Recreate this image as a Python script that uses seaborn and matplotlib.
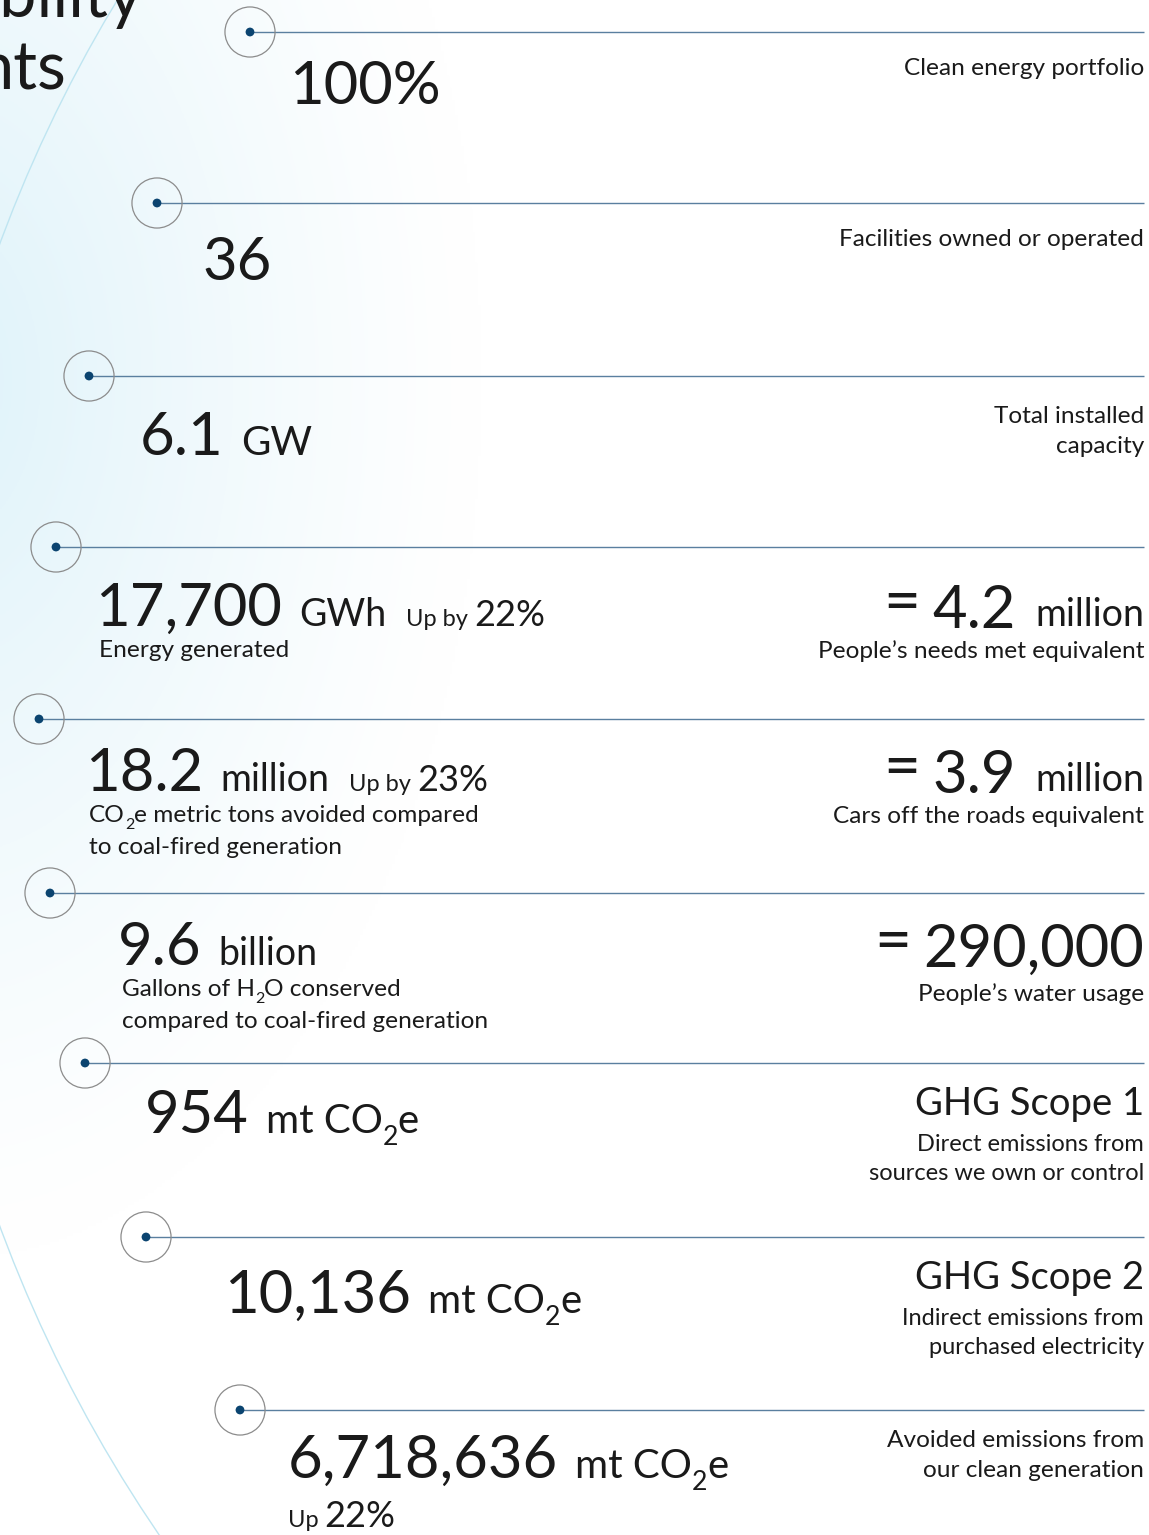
import numpy as np
import pandas as pd
import matplotlib
matplotlib.use("Agg")
import matplotlib.pyplot as plt
from matplotlib.patches import Circle
import seaborn as sns

# ---- data -------------------------------------------------------------
marker_x = [250, 157, 89, 56, 39, 50, 85, 146, 240]
marker_y = [32, 203, 376, 547, 719, 893, 1063, 1237, 1410]

values = ["100%", "36", "6.1", "17,700", "18.2", "9.6", "954", "10,136", "6,718,636"]
value_x = [289, 202, 140, 95, 85, 118, 145, 224, 288]
value_base = [104, 280, 455, 626, 791, 965, 1133, 1313, 1478]
# units / captions: "_2" marks a subscript two
units = ["", "", "GW", "GWh", "million", "billion", "mt CO_2e", "mt CO_2e", "mt CO_2e"]
change_label = ["", "", "", "Up by", "Up by", "", "", "", "Up"]
change_pct = ["", "", "", "22%", "23%", "", "", "", "22%"]

left_captions = [
    [], [], [],
    ["Energy generated"],
    ["CO_2e metric tons avoided compared", "to coal-fired generation"],
    ["Gallons of H_2O conserved", "compared to coal-fired generation"],
    [], [], [],
]

equiv_value = ["", "", "", "4.2", "3.9", "290,000", "", "", ""]
equiv_unit = ["", "", "", "million", "million", "", "", "", ""]
right_titles = ["", "", "", "", "", "", "GHG Scope 1", "GHG Scope 2", ""]
right_captions = [
    ["Clean energy portfolio"],
    ["Facilities owned or operated"],
    ["Total installed", "capacity"],
    ["People\u2019s needs met equivalent"],
    ["Cars off the roads equivalent"],
    ["People\u2019s water usage"],
    ["Direct emissions from", "sources we own or control"],
    ["Indirect emissions from", "purchased electricity"],
    ["Avoided emissions from", "our clean generation"],
]

W, H = 1149, 1535
RIGHT = 1144
INK = "#1a1a1a"

sns.set_theme(style="white")
plt.rcParams["font.family"] = ["Lato", "DejaVu Sans"]

fig = plt.figure(figsize=(W / 100, H / 100), dpi=100)
ax = fig.add_axes([0, 0, 1, 1])

# soft blue wash on the left
gx, gy = np.meshgrid(np.linspace(0, W, 400), np.linspace(0, H, 500))
d = np.sqrt(((gx + 60) / 540) ** 2 + ((gy - 380) / 880) ** 2)
f = np.clip(1 - d, 0, 1) ** 1.2
tint = np.array([0.87, 0.95, 0.978])
img = 1 - f[..., None] * (1 - tint)
ax.imshow(img, extent=(0, W, H, 0), aspect="auto", zorder=0)

# big faint arc
ax.add_patch(Circle((1330, 735), 1418, fill=False, ec="#bfe5f1", lw=1.0, zorder=1))

# connector lines and markers
pts = pd.DataFrame({"x": marker_x, "y": marker_y})
ax.hlines(pts["y"], pts["x"], RIGHT, color="#5a7f9f", lw=1.0, zorder=2)
sns.scatterplot(data=pts, x="x", y="y", ax=ax, s=1300, facecolor="none",
                edgecolor="#8c8c8c", linewidth=0.9, zorder=3, legend=False)
sns.scatterplot(data=pts, x="x", y="y", ax=ax, s=40, color="#0b4470",
                edgecolor="none", zorder=4, legend=False)
ax.set_xlim(0, W)
ax.set_ylim(H, 0)
ax.axis("off")

# title fragments (cut off by the page edge, as in the source)
ax.text(143, 17, "ability", fontsize=48, ha="right", va="baseline", color=INK, clip_on=True)
ax.text(66, 90, "nts", fontsize=48, ha="right", va="baseline", color=INK, clip_on=True)

fig.canvas.draw()
renderer = fig.canvas.get_renderer()
inv = ax.transData.inverted()


def put(x, y, s, size, ha="left"):
    t = ax.text(x, y, s, fontsize=size, ha=ha, va="baseline", color=INK, zorder=5)
    bb = t.get_window_extent(renderer=renderer)
    return inv.transform((bb.x0, bb.y0))[0], inv.transform((bb.x1, bb.y0))[0]


def put_rich(x, y, s, size):
    # left aligned text where "_2" becomes a lowered, smaller 2
    parts = s.split("_2")
    xe = x
    for k, p in enumerate(parts):
        if k > 0:
            _, xe = put(xe, y + size * 0.42, "2", size * 0.66)
            xe -= 0.5
        if p:
            if k > 0 and p.startswith(" "):
                xe += size * 0.28
            _, xe = put(xe, y, p.strip(" ") if k > 0 else p, size)
    return xe


VAL, UNIT, SMALL, PCT, CAP, TITLE, RCAP = 43, 27, 17, 26, 17.6, 27.5, 17

for i in range(len(values)):
    y = value_base[i]
    _, xe = put(value_x[i], y, values[i], VAL)
    if units[i]:
        usize = 29 if ("CO" in units[i] or units[i] == "GW") else UNIT
        xe = put_rich(xe + 17, y, units[i], usize)
    if change_pct[i] and i != 8:
        _, xe = put(xe + 20, y, change_label[i], SMALL)
        put(xe + 6, y, change_pct[i], PCT)
    for k, line in enumerate(left_captions[i]):
        put_rich(value_x[i] + 4, y + 31 + 32 * k, line, CAP)

    # right hand column
    if equiv_value[i]:
        xr = RIGHT
        if equiv_unit[i]:
            xs, _ = put(xr, y, equiv_unit[i], UNIT, ha="right")
            xr = xs - 19
        xs, _ = put(xr, y + 2, equiv_value[i], VAL, ha="right")
        put(xs - 12, y - 4, "=", 46, ha="right")
        cap_y = y + 32 if i != 5 else y + 36
        for k, line in enumerate(right_captions[i]):
            put(RIGHT, cap_y + 31 * k, line, CAP, ha="right")
    elif right_titles[i]:
        ty = marker_y[i] + 52
        put(RIGHT, ty, right_titles[i], TITLE, ha="right")
        for k, line in enumerate(right_captions[i]):
            put(RIGHT, ty + 36 + 29 * k, line, RCAP, ha="right")
    else:
        cy = marker_y[i] + 43
        if len(right_captions[i]) == 2:
            cy = marker_y[i] + 47
        if i == 8:
            cy = marker_y[i] + 37
        for k, line in enumerate(right_captions[i]):
            put(RIGHT, cy + 30 * k, line, CAP, ha="right")

# the last row carries its change on its own line
_, xe = put(value_x[8], 1527, change_label[8], SMALL)
put(xe + 6, 1527, change_pct[8], PCT)

fig.savefig("out.png", dpi=100)
